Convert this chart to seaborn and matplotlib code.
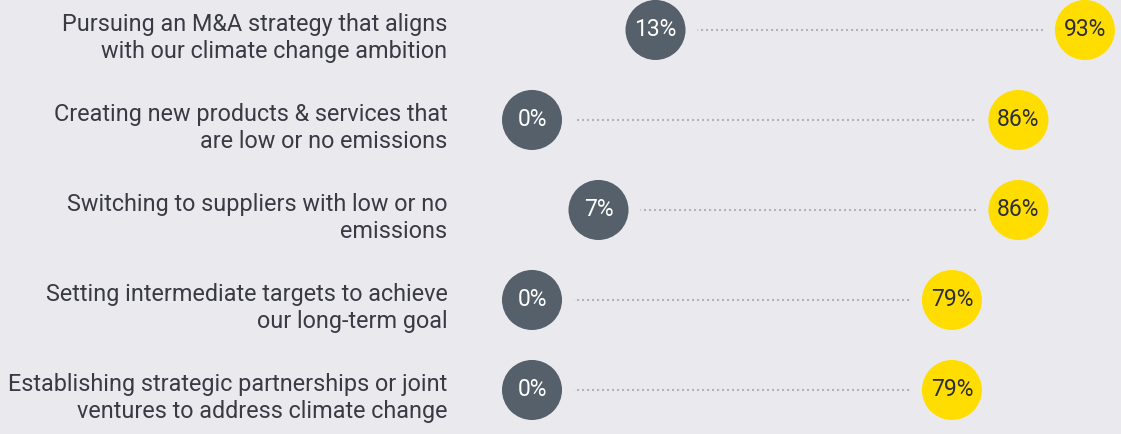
import numpy as np
import pandas as pd
import matplotlib.pyplot as plt
import matplotlib.transforms as mtransforms
import seaborn as sns

labels = [
    "Pursuing an M&A strategy that aligns\nwith our climate change ambition",
    "Creating new products & services that\nare low or no emissions",
    "Switching to suppliers with low or no\nemissions",
    "Setting intermediate targets to achieve\nour long-term goal",
    "Establishing strategic partnerships or joint\nventures to address climate change",
]
low_values = [13, 0, 7, 0, 0]
high_values = [93, 86, 86, 79, 79]

BG = "#EAE9EE"
DARK = "#55606B"
YELLOW = "#FFDD00"
TEXT = "#3A3A44"

sns.set_theme(style="white", rc={"axes.facecolor": BG, "figure.facecolor": BG})
plt.rcParams['font.family'] = ['Roboto', 'DejaVu Sans']

rows = np.arange(len(labels))
df = pd.DataFrame({
    "row": np.concatenate([rows, rows]),
    "value": low_values + high_values,
    "group": ["low"] * len(rows) + ["high"] * len(rows),
})

# axis with a compressed middle section (15% - 75%)
K = 0.42


def fwd(v):
    v = np.asarray(v, dtype=float)
    return np.where(v <= 15, v, np.where(v < 75, 15 + (v - 15) * K, 15 + 60 * K + (v - 75)))


def inv(t):
    t = np.asarray(t, dtype=float)
    top = 15 + 60 * K
    return np.where(t <= 15, t, np.where(t < top, 15 + (t - 15) / K, t - top + 75))


fig = plt.figure(figsize=(11.21, 4.34), dpi=100)
ax = fig.add_axes([460 / 1121, 0, 661 / 1121, 1])
ax.set_xscale('function', functions=(fwd, inv))

ax.hlines(rows, low_values, high_values, colors="#B3B3BC", linewidth=1.5,
          linestyles=(0, (1, 1.4)), zorder=1)

sns.scatterplot(data=df, x="value", y="row", hue="group",
                palette={"low": DARK, "high": YELLOW}, s=2687,
                edgecolor=BG, linewidth=8.6, legend=False, zorder=3, ax=ax)

for r, v in zip(rows, low_values):
    ax.text(v, r, f"{v}%", ha="center", va="center", color="white",
            fontsize=16.5, zorder=4)
for r, v in zip(rows, high_values):
    ax.text(v, r, f"{v}%", ha="center", va="center", color="#2E2E38",
            fontsize=16.5, zorder=4)

ax.set_xlim(float(inv(-7.58)), float(inv(62.0)))
ax.set_ylim(4.489, -0.333)
ax.set_xticks([])
ax.set_yticks(rows)
ax.set_yticklabels(labels, fontsize=16.8, color=TEXT, linespacing=1.2)
ax.tick_params(axis="y", length=0, pad=9)
# nudge the labels a little lower, as in the original layout
shift = mtransforms.ScaledTranslation(0, -4 / 100, fig.dpi_scale_trans)
for lbl in ax.get_yticklabels():
    lbl.set_transform(lbl.get_transform() + shift)
ax.set_xlabel("")
ax.set_ylabel("")
sns.despine(ax=ax, left=True, bottom=True)

fig.savefig("out.png", dpi=100, facecolor=BG)
